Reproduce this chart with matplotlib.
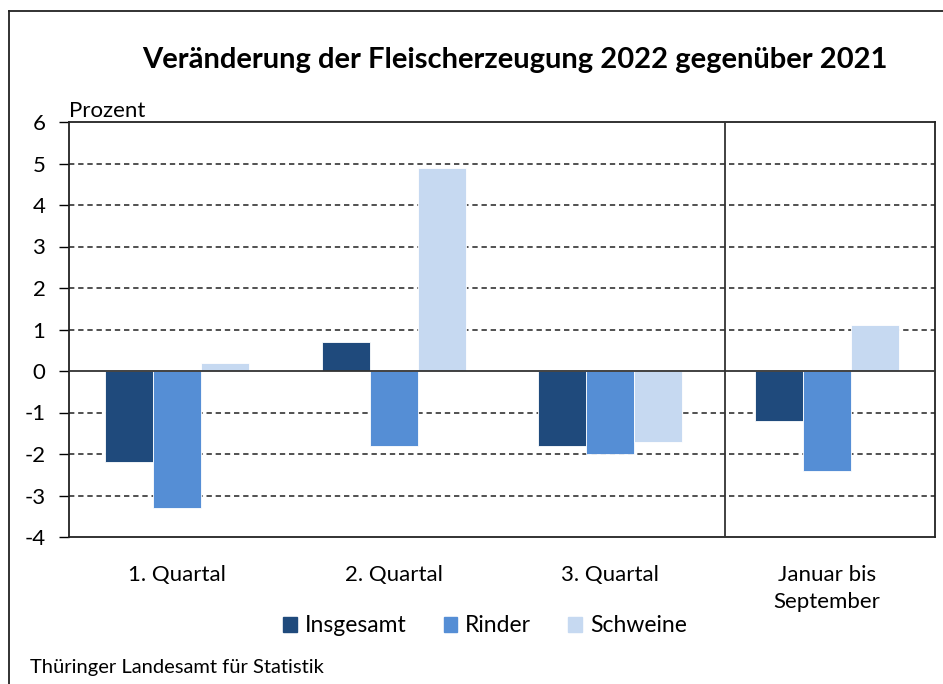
import matplotlib
matplotlib.use("Agg")
import matplotlib.pyplot as plt
import numpy as np
from matplotlib.patches import Rectangle
from matplotlib.lines import Line2D

plt.rcParams['font.family'] = ['Lato', 'DejaVu Sans']

categories = ["1. Quartal", "2. Quartal", "3. Quartal", "Januar bis\nSeptember"]
series_names = ["Insgesamt", "Rinder", "Schweine"]
insgesamt = [-2.2, 0.7, -1.8, -1.2]
rinder = [-3.3, -1.8, -2.0, -2.4]
schweine = [0.2, 4.9, -1.7, 1.1]
yticks = [-4, -3, -2, -1, 0, 1, 2, 3, 4, 5, 6]
colors = ["#1F4A7C", "#558ED5", "#C6D9F1"]

W, H = 943, 684
fig = plt.figure(figsize=(W/100, H/100), dpi=100)
ax = fig.add_axes([69/W, 1-537/H, (935-69)/W, (537-122)/H])

x = np.arange(len(categories))
bw = 0.222
for i, (vals, c, name) in enumerate(zip([insgesamt, rinder, schweine], colors, series_names)):
    ax.bar(x + (i-1)*bw, vals, width=bw, color=c, edgecolor="white", linewidth=0.6,
           label=name, zorder=3)

ax.set_xlim(-0.5, 3.5)
ax.set_ylim(-4, 6)
ax.set_yticks(yticks)
ax.set_yticklabels([str(v) for v in yticks], fontsize=16)
for v in yticks:
    if v == 0:
        ax.axhline(v, color="#333333", lw=1.3, zorder=4)
    elif v not in (-4, 6):
        ax.axhline(v, color="#222222", lw=1.1, ls=(0, (3.5, 2.5)), zorder=1)
ax.axvline(2.53, color="#333333", lw=1.3, zorder=4)
ax.set_xticks(x)
ax.set_xticklabels(categories, fontsize=16, linespacing=1.45)
ax.tick_params(axis='x', length=0, pad=20)
ax.tick_params(axis='y', length=7, direction='out', pad=10, width=1)
for s in ax.spines.values():
    s.set_color("#222222")
    s.set_linewidth(1.3)

ax.text(0, 1.003, "Prozent", transform=ax.transAxes, fontsize=16, ha='left', va='bottom')

fig.text(515/W, 1-60/H, "Veränderung der Fleischerzeugung 2022 gegenüber 2021",
         fontsize=21, fontweight='bold', ha='center', va='center')

handles = [Rectangle((0, 0), 1, 1, color=c) for c in colors]
fig.legend(handles, series_names, loc='center', bbox_to_anchor=(485/W, 1-626/H),
           ncol=3, frameon=False, fontsize=16.5, handlelength=0.6, handleheight=0.6,
           handletextpad=0.35, columnspacing=1.6)

fig.text(30/W, 1-668/H, "Thüringer Landesamt für Statistik", fontsize=14.5, ha='left', va='center')

fig.add_artist(Line2D([9/W, 9/W], [0, 1-11/H], transform=fig.transFigure, color="#222222", lw=1.3))
fig.add_artist(Line2D([9/W, 1], [1-11/H, 1-11/H], transform=fig.transFigure, color="#222222", lw=1.3))

fig.savefig("out.png", dpi=100)
